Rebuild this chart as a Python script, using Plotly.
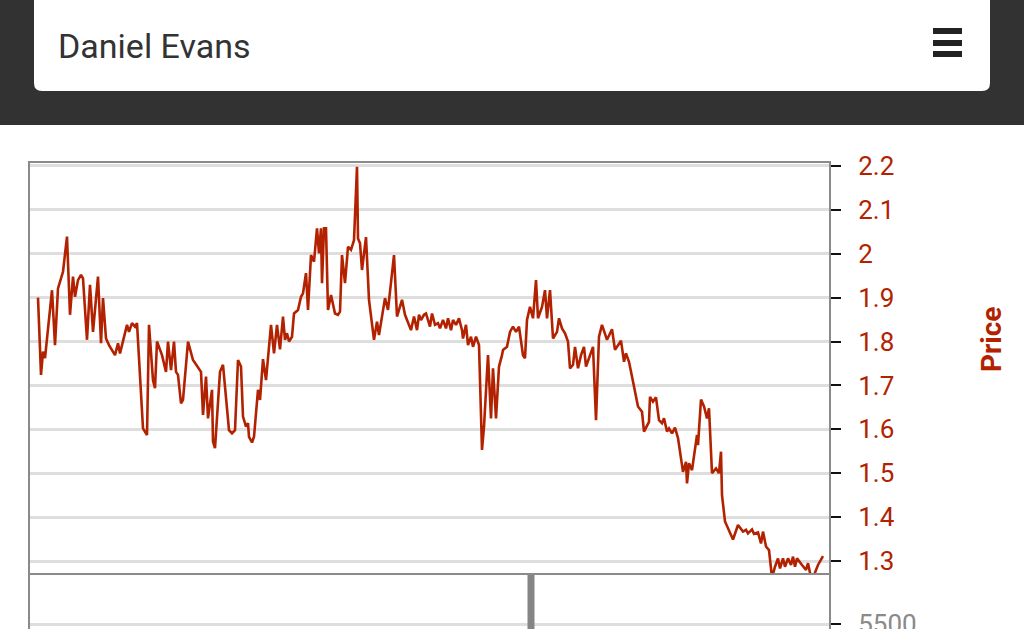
import plotly.graph_objects as go

W, H = 1024, 629

# ---- data ----
days = [0, 3, 5, 7, 14, 17, 20, 25, 29, 32, 35, 37, 40, 43, 45, 49, 52, 55, 60, 63, 65, 68, 71, 75, 77, 80, 82,
        89, 91, 94, 97, 99, 105, 109, 111, 115, 117, 119, 124, 128, 130, 133, 136, 138, 140, 143, 145, 150, 155,
        163, 165, 168, 170, 174, 175, 177, 182, 185, 191, 194, 197, 200, 203, 205, 208, 210, 211, 214, 216, 220,
        222, 225, 228, 233, 236, 239, 242, 245, 247, 249, 251, 254, 256, 260, 263, 265, 268, 270, 273, 276, 279,
        281, 283, 284, 286, 288, 290, 293, 297, 300, 302, 304, 307, 310, 313, 316, 319, 320, 322, 324, 328, 331,
        336, 339, 341, 347, 350, 356, 359, 364, 367, 373, 376, 379, 381, 383, 386, 388, 390, 392, 394, 397, 400,
        402, 405, 408, 410, 413, 415, 418, 421, 424, 425, 428, 430, 433, 435, 438, 441, 444, 446, 450, 453, 455,
        458, 461, 464, 465, 469, 472, 475, 478, 481, 483, 485, 487, 489, 492, 495, 498, 500, 504, 507, 509, 512,
        515, 519, 521, 524, 527, 530, 532, 535, 537, 540, 543, 546, 548, 552, 555, 558, 561, 564, 569, 574, 577,
        583, 586, 588, 591, 595, 600, 604, 606, 611, 612, 615, 618, 621, 624, 626, 629, 631, 634, 637, 640, 645,
        648, 649, 651, 654, 659, 660, 663, 666, 669, 671, 674, 678, 681, 683, 684, 687, 691, 695, 700, 705, 708,
        710, 714, 716, 720, 723, 725, 728, 731, 734, 737, 740, 742, 745, 747, 750, 753, 755, 757, 759, 764, 768,
        770, 773, 775, 780, 785]
prices = [1.900, 1.724, 1.777, 1.762, 1.917, 1.792, 1.921, 1.959, 2.039, 1.861, 1.948, 1.902, 1.940, 1.952,
          1.944, 1.804, 1.929, 1.822, 1.948, 1.796, 1.899, 1.807, 1.792, 1.777, 1.769, 1.796, 1.773, 1.838,
          1.822, 1.842, 1.834, 1.842, 1.602, 1.587, 1.838, 1.712, 1.694, 1.800, 1.769, 1.731, 1.800, 1.735,
          1.800, 1.731, 1.724, 1.659, 1.667, 1.800, 1.758, 1.731, 1.633, 1.720, 1.625, 1.690, 1.572, 1.557,
          1.731, 1.747, 1.598, 1.591, 1.598, 1.758, 1.743, 1.629, 1.606, 1.614, 1.583, 1.570, 1.583, 1.690,
          1.667, 1.760, 1.712, 1.838, 1.773, 1.838, 1.782, 1.857, 1.804, 1.819, 1.800, 1.811, 1.864, 1.872,
          1.902, 1.910, 1.956, 1.872, 1.997, 1.982, 2.058, 2.001, 2.058, 1.933, 2.058, 2.058, 1.872, 1.906,
          1.864, 1.861, 1.868, 1.997, 1.933, 2.016, 2.009, 2.031, 2.198, 2.035, 2.024, 1.963, 2.038, 1.895,
          1.804, 1.845, 1.815, 1.899, 1.872, 1.997, 1.857, 1.895, 1.861, 1.826, 1.857, 1.826, 1.861, 1.849,
          1.861, 1.864, 1.849, 1.834, 1.864, 1.838, 1.842, 1.830, 1.849, 1.830, 1.853, 1.826, 1.849, 1.838,
          1.853, 1.826, 1.807, 1.838, 1.792, 1.811, 1.788, 1.811, 1.792, 1.553, 1.606, 1.769, 1.625, 1.739,
          1.625, 1.743, 1.769, 1.781, 1.788, 1.822, 1.834, 1.822, 1.834, 1.800, 1.769, 1.762, 1.849, 1.879,
          1.853, 1.940, 1.853, 1.879, 1.917, 1.853, 1.917, 1.807, 1.822, 1.853, 1.830, 1.819, 1.800, 1.739,
          1.747, 1.788, 1.739, 1.769, 1.788, 1.743, 1.769, 1.788, 1.621, 1.811, 1.838, 1.804, 1.828, 1.781,
          1.802, 1.754, 1.773, 1.754, 1.709, 1.652, 1.640, 1.595, 1.617, 1.674, 1.663, 1.673, 1.621, 1.614,
          1.625, 1.595, 1.602, 1.591, 1.604, 1.580, 1.503, 1.526, 1.477, 1.523, 1.507, 1.587, 1.564, 1.668,
          1.652, 1.625, 1.648, 1.500, 1.511, 1.500, 1.549, 1.450, 1.390, 1.371, 1.349, 1.382, 1.367, 1.371,
          1.363, 1.372, 1.362, 1.365, 1.340, 1.367, 1.333, 1.325, 1.262, 1.287, 1.306, 1.283, 1.306, 1.287,
          1.306, 1.291, 1.310, 1.287, 1.306, 1.291, 1.280, 1.295, 1.262, 1.262, 1.291, 1.311]

volume_days = [493]
volumes = [7400]

price_ticks = [1.3, 1.4, 1.5, 1.6, 1.7, 1.8, 1.9, 2.0, 2.1, 2.2]
price_tick_labels = ["1.3", "1.4", "1.5", "1.6", "1.7", "1.8", "1.9", "2", "2.1", "2.2"]
volume_ticks = [5500]
volume_tick_labels = ["5500"]

RED = "#b22200"
GRID = "#dedede"
FRAME = "#8a8a8a"


def px_x(p):
    return p / W


def px_y(p):
    return 1 - p / H


fig = go.Figure()
fig.add_trace(go.Scatter(x=days, y=prices, mode="lines",
                         line=dict(color=RED, width=2.6), xaxis="x", yaxis="y",
                         hoverinfo="skip", showlegend=False))
fig.add_trace(go.Bar(x=volume_days, y=volumes, width=7, marker=dict(color="#858585", line=dict(width=0)),
                     xaxis="x2", yaxis="y2", showlegend=False, hoverinfo="skip"))

xr = [-8, 791]
common_x = dict(range=xr, domain=[px_x(30), px_x(829)], showgrid=False, zeroline=False,
                showticklabels=False, ticks="", showline=True, linecolor=FRAME, linewidth=2, mirror=True)

fig.update_layout(
    width=W, height=H,
    margin=dict(l=0, r=0, t=0, b=0, autoexpand=False),
    paper_bgcolor="white", plot_bgcolor="white",
    font=dict(family="Roboto, sans-serif"),
    xaxis=dict(anchor="y", **common_x),
    xaxis2=dict(anchor="y2", **common_x),
    yaxis=dict(domain=[px_y(573), px_y(163)], range=[1.2727, 2.2068], side="right", anchor="x",
               tickvals=price_ticks, ticktext=price_tick_labels,
               tickfont=dict(color=RED, size=26, family="Roboto"),
               ticks="outside", ticklen=10, tickwidth=2, tickcolor="#111",
               ticklabelstandoff=12,
               showgrid=True, gridcolor=GRID, gridwidth=2.5, zeroline=False,
               showline=True, linecolor=FRAME, linewidth=2, mirror=True),
    yaxis2=dict(domain=[0, px_y(575)], range=[5417, 6317], side="right", anchor="x2",
                tickvals=volume_ticks, ticktext=volume_tick_labels,
                tickfont=dict(color="#8a8a8a", size=26, family="Roboto"),
                ticks="outside", ticklen=10, tickwidth=2, tickcolor="#111",
                ticklabelstandoff=12, ticklabeloverflow="allow",
                showgrid=True, gridcolor=GRID, gridwidth=2.5, zeroline=False,
                showline=True, linecolor=FRAME, linewidth=2, mirror=True),
)

# header band and card
shapes = [dict(type="rect", xref="paper", yref="paper", x0=0, x1=1, y0=px_y(125), y1=1.01,
               fillcolor="#323232", line=dict(width=0), layer="above")]
r = 8
x0, x1, yb = 34, 990, 91
path = (f"M {px_x(x0)},{px_y(-5)} L {px_x(x1)},{px_y(-5)} L {px_x(x1)},{px_y(yb - r)} "
        f"Q {px_x(x1)},{px_y(yb)} {px_x(x1 - r)},{px_y(yb)} L {px_x(x0 + r)},{px_y(yb)} "
        f"Q {px_x(x0)},{px_y(yb)} {px_x(x0)},{px_y(yb - r)} Z")
shapes.append(dict(type="path", xref="paper", yref="paper", path=path, fillcolor="white",
                   line=dict(width=0), layer="above"))
for (ya, yb2) in [(28, 34), (40, 46), (51, 57)]:
    shapes.append(dict(type="rect", xref="paper", yref="paper", x0=px_x(933), x1=px_x(962),
                       y0=px_y(yb2), y1=px_y(ya), fillcolor="#222222", line=dict(width=0), layer="above"))
fig.update_layout(shapes=shapes)

fig.add_annotation(text="Daniel Evans", xref="paper", yref="paper", x=px_x(56), y=px_y(46),
                   xanchor="left", yanchor="middle", showarrow=False,
                   font=dict(family="Roboto", size=34, color="#333333"))
fig.add_annotation(text="<b>Price</b>", xref="paper", yref="paper", x=px_x(991), y=px_y(340),
                   xanchor="center", yanchor="middle", showarrow=False, textangle=-90,
                   font=dict(family="Roboto", size=28, color=RED))

fig.write_html("out.html", config=dict(displayModeBar=False),
               post_script="document.body.style.margin='0';document.body.style.overflow='hidden';")
